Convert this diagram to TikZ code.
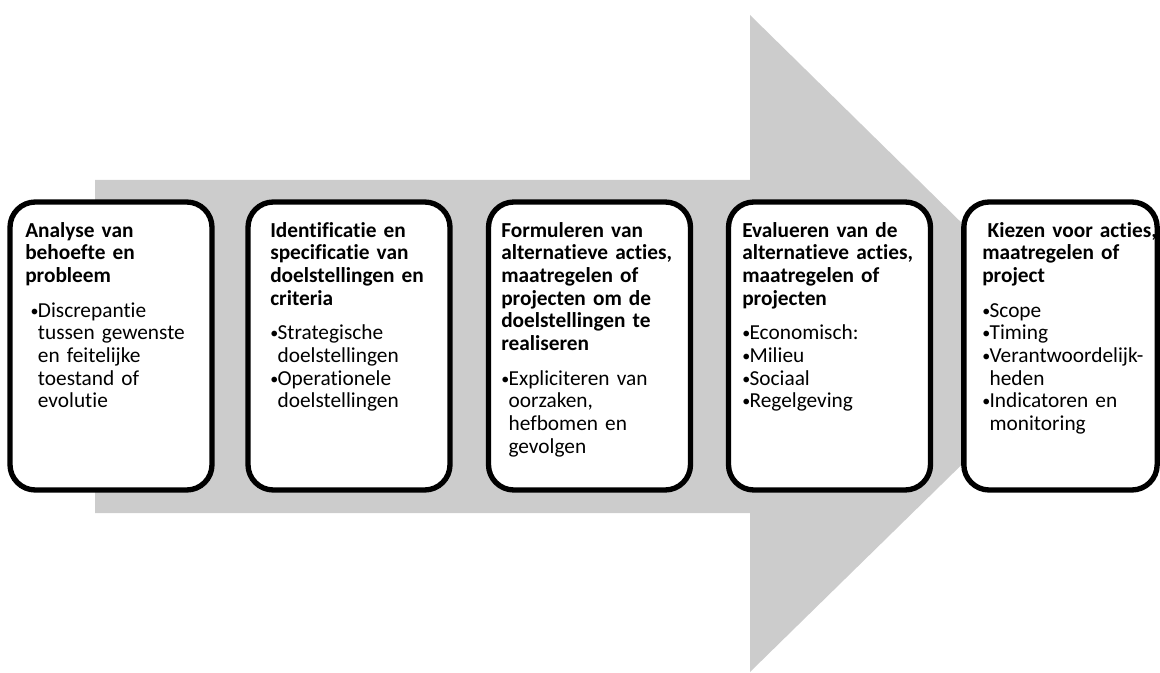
\documentclass[tikz,border=0pt]{standalone}
\usepackage{fontspec}
\setmainfont{Carlito}[Ligatures=NoCommon]
\usepackage{tikz}
\usetikzlibrary{positioning}
\definecolor{ArrowGray}{RGB}{204,204,204}
\newcommand{\bul}{\makebox[5.5pt][l]{\raisebox{0.6pt}{\fontsize{12}{12}\selectfont\textbullet}}}
\newcommand{\ind}{\hspace*{5.5pt}}

\begin{document}
\begin{tikzpicture}[
  x=0.75pt, y=-0.75pt,
  stage/.style={draw=black, line width=4pt, fill=white, rounded corners=19pt,
                minimum width=151.5pt, minimum height=216pt, inner sep=0pt},
  stagetext/.style={anchor=north west, inner sep=0pt, text width=175pt,
                align=left, font=\fontsize{16}{17}\selectfont},
]
\useasboundingbox (0,0) rectangle (1160,673);
% grey process arrow behind the stages
\fill[ArrowGray] (95,180) -- (750,180) -- (750,15) -- (1085,344)
  -- (750,672) -- (750,513) -- (95,513) -- cycle;
% the five stages
\node[stage] (analyse)  at (111,346)    {};
\node[stage] (doelen)   at (349,346)    {};
\node[stage] (formuleer) at (589.5,346) {};
\node[stage] (evalueer) at (829.5,346)  {};
\node[stage, minimum width=145pt] (kies) at (1060.5,346) {};
% stage texts
\node[stagetext] (analysetxt) at (25,221)
  {{\strut\bfseries Analyse van\\behoefte en\\probleem}\\[9pt]
   \hspace*{4pt}\bul Discrepantie\\\hspace*{4pt}\ind tussen gewenste\\\hspace*{4pt}\ind en feitelijke\\
   \hspace*{4pt}\ind toestand of\\\hspace*{4pt}\ind evolutie};
\node[stagetext] (doelentxt) at (270,221)
  {{\strut\bfseries Identificatie en\\specificatie van\\doelstellingen en\\criteria}\\[9pt]
   \bul Strategische\\\ind doelstellingen\\
   \bul Operationele\\\ind doelstellingen};
\node[stagetext] (formuleertxt) at (501,221)
  {{\strut\bfseries Formuleren van\\alternatieve acties,\\maatregelen of\\projecten om de\\doelstellingen te\\realiseren}\\[9pt]
   \bul Expliciteren van\\\ind oorzaken,\\\ind hefbomen en\\\ind gevolgen};
\node[stagetext] (evalueertxt) at (742,221)
  {{\strut\bfseries Evalueren van de\\alternatieve acties,\\maatregelen of\\projecten}\\[9pt]
   \bul Economisch:\\\bul Milieu\\\bul Sociaal\\\bul Regelgeving};
\node[stagetext] (kiestxt) at (982,221)
  {{\strut\bfseries\hspace*{4pt}Kiezen voor acties,\\maatregelen of\\project}\\[9pt]
   \bul Scope\\\bul Timing\\\bul Verantwoordelijk-\\\ind heden\\
   \bul Indicatoren en\\\ind monitoring};
\end{tikzpicture}
\end{document}
